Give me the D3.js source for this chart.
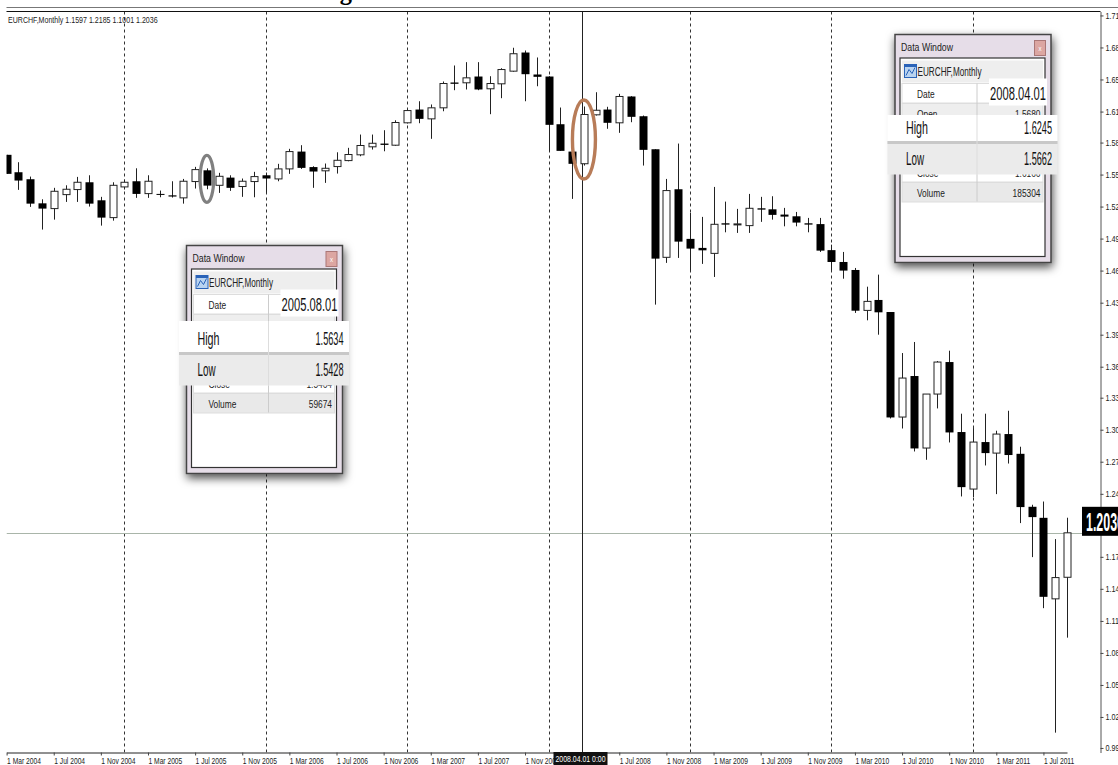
<!DOCTYPE html>
<html>
<head>
<meta charset="utf-8">
<title>EURCHF Monthly</title>
<script src="https://cdnjs.cloudflare.com/ajax/libs/d3/7.8.5/d3.min.js"></script>
<style>
  html, body { margin: 0; padding: 0; background: #fff; overflow: hidden; }
  svg { display: block; }
  text { font-family: "Liberation Sans", sans-serif; fill: #222; }
</style>
</head>
<body>
<div id="grafico"></div>
<script>
// ==================== DATA ====================
const months = [
  "Mar 2004","Apr 2004","May 2004","Jun 2004","Jul 2004","Aug 2004","Sep 2004","Oct 2004","Nov 2004","Dec 2004",
  "Jan 2005","Feb 2005","Mar 2005","Apr 2005","May 2005","Jun 2005","Jul 2005","Aug 2005","Sep 2005","Oct 2005","Nov 2005","Dec 2005",
  "Jan 2006","Feb 2006","Mar 2006","Apr 2006","May 2006","Jun 2006","Jul 2006","Aug 2006","Sep 2006","Oct 2006","Nov 2006","Dec 2006",
  "Jan 2007","Feb 2007","Mar 2007","Apr 2007","May 2007","Jun 2007","Jul 2007","Aug 2007","Sep 2007","Oct 2007","Nov 2007","Dec 2007",
  "Jan 2008","Feb 2008","Mar 2008","Apr 2008","May 2008","Jun 2008","Jul 2008","Aug 2008","Sep 2008","Oct 2008","Nov 2008","Dec 2008",
  "Jan 2009","Feb 2009","Mar 2009","Apr 2009","May 2009","Jun 2009","Jul 2009","Aug 2009","Sep 2009","Oct 2009","Nov 2009","Dec 2009",
  "Jan 2010","Feb 2010","Mar 2010","Apr 2010","May 2010","Jun 2010","Jul 2010","Aug 2010","Sep 2010","Oct 2010","Nov 2010","Dec 2010",
  "Jan 2011","Feb 2011","Mar 2011","Apr 2011","May 2011","Jun 2011","Jul 2011","Aug 2011","Sep 2011"
];

const opens = [
  1.5768,1.5596,1.5527,1.5289,1.5237,1.5375,1.5425,1.5497,1.5319,1.5148,
  1.5451,1.5507,1.5385,1.5382,1.5368,1.5343,1.5504,1.5615,1.5467,1.5543,1.5455,1.5504,
  1.5566,1.5530,1.5629,1.5800,1.5647,1.5610,1.5652,1.5711,1.5768,1.5847,1.5879,1.5863,
  1.6084,1.6215,1.6123,1.6232,1.6482,1.6479,1.6541,1.6420,1.6469,1.6594,1.6778,1.6561,
  1.6541,1.6070,1.5800,1.5680,1.6163,1.6215,1.6084,1.6344,1.6149,1.5823,1.4756,1.5428,
  1.4938,1.4849,1.4795,1.5092,1.5076,1.5069,1.5240,1.5230,1.5178,1.5161,1.5092,1.5084,
  1.4827,1.4710,1.4631,1.4232,1.4335,1.4216,1.3179,1.3584,1.2873,1.3406,1.3722,1.3031,
  1.2468,1.2932,1.2823,1.3011,1.2816,1.2293,1.2184,1.1384,1.1597
];
const highs = [
  1.5768,1.5695,1.5553,1.5329,1.5442,1.5467,1.5550,1.5566,1.5353,1.5497,
  1.5524,1.5635,1.5566,1.5415,1.5507,1.5530,1.5649,1.5634,1.5590,1.5566,1.5534,1.5600,
  1.5593,1.5679,1.5827,1.5863,1.5655,1.5682,1.5793,1.5837,1.5968,1.5968,1.6011,1.6109,
  1.6215,1.6297,1.6265,1.6492,1.6650,1.6683,1.6683,1.6544,1.6623,1.6825,1.6798,1.6729,
  1.6544,1.6235,1.5800,1.6245,1.6386,1.6242,1.6370,1.6347,1.6156,1.5823,1.5530,1.5879,
  1.5195,1.5155,1.5451,1.5306,1.5234,1.5382,1.5353,1.5359,1.5244,1.5204,1.5145,1.5145,
  1.4881,1.4809,1.4651,1.4466,1.4585,1.4216,1.3811,1.3920,1.3406,1.3732,1.3834,1.3212,
  1.3070,1.3212,1.3044,1.3241,1.2886,1.2313,1.2345,1.1974,1.2185
];
const lows = [
  1.5580,1.5422,1.5254,1.5030,1.5128,1.5303,1.5303,1.5257,1.5069,1.5118,
  1.5425,1.5343,1.5343,1.5349,1.5346,1.5286,1.5435,1.5428,1.5392,1.5412,1.5353,1.5349,
  1.5395,1.5507,1.5580,1.5629,1.5442,1.5491,1.5583,1.5704,1.5754,1.5820,1.5803,1.5857,
  1.6077,1.6080,1.5926,1.6198,1.6406,1.6413,1.6406,1.6169,1.6327,1.6588,1.6297,1.6445,
  1.5803,1.5807,1.5333,1.5662,1.6156,1.6025,1.5985,1.6090,1.5662,1.4289,1.4701,1.4750,
  1.4628,1.4691,1.4562,1.5003,1.4997,1.4997,1.5106,1.5128,1.5062,1.5062,1.5003,1.4809,
  1.4628,1.4545,1.4207,1.4134,1.3992,1.3165,1.3066,1.2839,1.2757,1.3264,1.2928,1.2395,
  1.2389,1.2701,1.2418,1.2720,1.2132,1.1796,1.1292,1.0063,1.1001
];
const closes = [
  1.5580,1.5514,1.5286,1.5237,1.5408,1.5428,1.5497,1.5286,1.5148,1.5467,
  1.5497,1.5382,1.5507,1.5375,1.5356,1.5507,1.5622,1.5464,1.5556,1.5442,1.5507,1.5553,
  1.5534,1.5629,1.5800,1.5639,1.5603,1.5635,1.5714,1.5771,1.5860,1.5882,1.5866,1.6087,
  1.6205,1.6123,1.6232,1.6472,1.6469,1.6528,1.6413,1.6472,1.6610,1.6766,1.6564,1.6538,
  1.6064,1.5807,1.5679,1.6166,1.6208,1.6084,1.6344,1.6143,1.5817,1.4743,1.5415,1.4911,
  1.4842,1.4825,1.5082,1.5079,1.5086,1.5240,1.5227,1.5175,1.5158,1.5099,1.5079,1.4822,
  1.4710,1.4625,1.4229,1.4321,1.4213,1.3175,1.3564,1.2869,1.3406,1.3722,1.3027,1.2487,
  1.2932,1.2823,1.3011,1.2804,1.2290,1.2191,1.1404,1.1594,1.2036
];

const priceTickValues = [
  1.7144,1.6828,1.6512,1.6195,1.5889,1.5573,1.5257,1.4941,1.4625,1.4308,1.3992,1.3676,
  1.3370,1.3054,1.2738,1.2421,1.2105,1.1799,1.1483,1.1166,1.0850,1.0534,1.0218,0.9912
];
const priceTickLabels = [
  "1.71","1.68","1.65","1.61","1.58","1.55","1.52","1.49","1.46","1.43","1.39","1.36",
  "1.33","1.30","1.27","1.24","1.20","1.17","1.14","1.11","1.08","1.05","1.02","0.99"
];
const timeTicks = [
  "Mar 2004","Jul 2004","Nov 2004","Mar 2005","Jul 2005","Nov 2005","Mar 2006","Jul 2006",
  "Nov 2006","Mar 2007","Jul 2007","Nov 2007","Mar 2008","Jul 2008","Nov 2008","Mar 2009",
  "Jul 2009","Nov 2009","Mar 2010","Jul 2010","Nov 2010","Mar 2011","Jul 2011"
];
const yearSeparators = ["Jan 2005","Jan 2006","Jan 2007","Jan 2008","Jan 2009","Jan 2010","Jan 2011"];

const lastClose = 1.2036;
const crosshairMonth = "Apr 2008";
const legendText = "EURCHF,Monthly  1.1597 1.2185 1.1001 1.2036";
const titleText = "Figure 4: EURCHF Movement from 2004 to 2011";

const windowAugust = { date: "2005.08.01", open: "1.5615", high: "1.5634", low: "1.5428", close: "1.5464", volume: "59674" };
const windowApril = { date: "2008.04.01", open: "1.5680", high: "1.6245", low: "1.5662", close: "1.6166", volume: "185304" };

// ==================== LAYOUT ====================
const width = 1118, height = 765;
const plotLeft = 6.5, plotRight = 1100.5, plotTop = 11.5, plotBottom = 752.5;

const x = d3.scalePoint().domain(months).range([6.6, 1067]);
const y = d3.scaleLinear().domain([0.9867, 1.7183]).range([plotBottom, plotTop]);

const svg = d3.select("#grafico").append("svg")
  .attr("width", width)
  .attr("height", height)
  .attr("viewBox", [0, 0, width, height]);

const defs = svg.append("defs");
defs.append("clipPath").attr("id", "plot-clip")
  .append("rect")
  .attr("x", plotLeft).attr("y", plotTop)
  .attr("width", plotRight - plotLeft).attr("height", plotBottom - plotTop);
defs.append("filter").attr("id", "window-shadow")
  .attr("x", "-15%").attr("y", "-15%").attr("width", "130%").attr("height", "130%")
  .append("feDropShadow")
  .attr("dx", 1).attr("dy", 4).attr("stdDeviation", 5)
  .attr("flood-color", "#000").attr("flood-opacity", 0.7);

// ==================== TITLE (cut by the top of the page) ====================
svg.append("text")
  .attr("x", 318).attr("y", 0)
  .attr("textLength", 512)
  .attr("lengthAdjust", "spacingAndGlyphs")
  .style("font-family", "'Liberation Serif', serif")
  .style("font-weight", "bold")
  .style("font-size", "26px")
  .style("fill", "#000")
  .text(titleText);

svg.append("line")
  .attr("x1", plotLeft).attr("x2", width).attr("y1", 7.5).attr("y2", 7.5)
  .attr("stroke", "#777");

// ==================== GRID AND CROSSHAIR ====================
const plot = svg.append("g").attr("clip-path", "url(#plot-clip)");

plot.selectAll("line.separator")
  .data(yearSeparators)
  .join("line")
  .attr("class", "separator")
  .attr("x1", d => Math.round(x(d)) + 0.5)
  .attr("x2", d => Math.round(x(d)) + 0.5)
  .attr("y1", plotTop).attr("y2", plotBottom)
  .attr("stroke", "#333")
  .attr("stroke-dasharray", "3,3");

plot.append("line")
  .attr("x1", plotLeft).attr("x2", plotRight)
  .attr("y1", Math.round(y(lastClose)) + 0.5).attr("y2", Math.round(y(lastClose)) + 0.5)
  .attr("stroke", "#a9b5a9");

plot.append("line")
  .attr("x1", Math.round(x(crosshairMonth)) - 1.5).attr("x2", Math.round(x(crosshairMonth)) - 1.5)
  .attr("y1", plotTop).attr("y2", plotBottom)
  .attr("stroke", "#222");

// ==================== CANDLES ====================
const candles = plot.selectAll("g.candle")
  .data(months)
  .join("g")
  .attr("class", "candle");

candles.append("line")
  .attr("x1", d => Math.round(x(d)) + 0.5)
  .attr("x2", d => Math.round(x(d)) + 0.5)
  .attr("y1", (d, i) => y(highs[i]))
  .attr("y2", (d, i) => y(lows[i]))
  .attr("stroke", "#222");

candles.append("rect")
  .attr("x", (d, i) => Math.round(x(d)) + (closes[i] >= opens[i] ? -3 : -3.5))
  .attr("width", (d, i) => closes[i] >= opens[i] ? 7 : 8)
  .attr("y", (d, i) => y(Math.max(opens[i], closes[i])))
  .attr("height", (d, i) => Math.max(1, Math.abs(y(opens[i]) - y(closes[i]))))
  .attr("fill", (d, i) => closes[i] >= opens[i] ? "#fff" : "#000")
  .attr("stroke", (d, i) => closes[i] >= opens[i] ? "#222" : "none");

// ==================== AXES ====================
const priceAxis = svg.append("g")
  .attr("transform", `translate(${plotRight},0)`)
  .call(d3.axisRight(y)
    .tickValues(priceTickValues)
    .tickFormat((d, i) => priceTickLabels[i])
    .tickSize(3)
    .tickPadding(2)
    .tickSizeOuter(0));
priceAxis.select(".domain").attr("stroke", "#555");
priceAxis.selectAll(".tick line").attr("stroke", "#444");
priceAxis.selectAll("text").style("font-size", "9.5px");

const timeAxis = svg.append("g")
  .attr("transform", `translate(0,${plotBottom})`)
  .call(d3.axisBottom(x)
    .tickValues(timeTicks)
    .tickFormat(d => "1 " + d)
    .tickSize(3)
    .tickPadding(2)
    .tickSizeOuter(0));
timeAxis.select(".domain").attr("stroke", "#222");
timeAxis.selectAll(".tick line").attr("stroke", "#444");
timeAxis.selectAll("text")
  .attr("text-anchor", "start")
  .style("font-size", "8.8px");

svg.append("line")
  .attr("x1", plotLeft).attr("x2", plotRight).attr("y1", plotTop).attr("y2", plotTop)
  .attr("stroke", "#111");

svg.append("text")
  .attr("x", 8).attr("y", 23)
  .style("font-size", "9.3px")
  .text(legendText);

// crosshair date flag on the time axis
svg.append("rect")
  .attr("x", 553.5).attr("y", 752).attr("width", 54).attr("height", 13)
  .attr("fill", "#111");
svg.append("text")
  .attr("x", 580.5).attr("y", 762)
  .attr("text-anchor", "middle")
  .attr("textLength", 50)
  .attr("lengthAdjust", "spacingAndGlyphs")
  .style("font-size", "9.5px")
  .style("fill", "#fff")
  .text("2008.04.01 0:00");

// last price flag on the price axis
svg.append("rect")
  .attr("x", 1082).attr("y", y(lastClose) - 26).attr("width", 36).attr("height", 29)
  .attr("fill", "#000");
svg.append("text")
  .attr("x", 1086).attr("y", y(lastClose) - 1.5)
  .attr("textLength", 38)
  .attr("lengthAdjust", "spacingAndGlyphs")
  .style("font-size", "25px")
  .style("font-weight", "bold")
  .style("fill", "#fff")
  .text("1.2036");

// ==================== HIGHLIGHT RINGS ====================
svg.append("ellipse")
  .attr("cx", x("Aug 2005")).attr("cy", (y(1.5634) + y(1.5428)) / 2)
  .attr("rx", 6.8).attr("ry", 23.5)
  .attr("fill", "none").attr("stroke", "#808080").attr("stroke-width", 3.2);
svg.append("ellipse")
  .attr("cx", x("Apr 2008")).attr("cy", (y(1.6245) + y(1.5662)) / 2 + 3.5)
  .attr("rx", 11.5).attr("ry", 39.5)
  .attr("fill", "none").attr("stroke", "#b87c58").attr("stroke-width", 3.4);

// ==================== DATA WINDOWS ====================
/**
 * Draws one MT4 "Data Window" panel with the enlarged High and Low rows.
 * @param {number} left - Left edge of the panel.
 * @param {number} top - Top edge of the panel.
 * @param {Object} info - Strings shown in the panel.
 * @param {number} patchTop - Top of the enlarged High row, from the panel top.
 */
function drawDataWindow(left, top, info, patchTop) {
  const w = 156, h = 228;
  const g = svg.append("g").attr("transform", `translate(${left},${top})`);

  g.append("rect").attr("width", w).attr("height", h)
    .attr("fill", "#e6dde8").attr("stroke", "#444").attr("stroke-width", 1.5)
    .attr("filter", "url(#window-shadow)");
  g.append("text").attr("x", 6).attr("y", 16.5).style("font-size", "11.5px").text("Data Window");

  g.append("rect").attr("x", 139.5).attr("y", 6).attr("width", 11).attr("height", 15)
    .attr("fill", "#dca6a2").attr("stroke", "#a77");
  g.append("text").attr("x", 145).attr("y", 16.5).attr("text-anchor", "middle")
    .style("font-size", "8px").style("fill", "#fff").text("x");

  g.append("rect").attr("x", 5).attr("y", 23.5).attr("width", 145).attr("height", 198.5)
    .attr("fill", "#fff").attr("stroke", "#333").attr("stroke-width", 1.2);
  g.append("rect").attr("x", 7).attr("y", 26).attr("width", 141).attr("height", 22).attr("fill", "#eee");

  g.append("rect").attr("x", 9.5).attr("y", 30).attr("width", 12).attr("height", 13)
    .attr("fill", "#b9d3f0").attr("stroke", "#2a63b8");
  g.append("rect").attr("x", 9.5).attr("y", 30).attr("width", 12).attr("height", 2.5).attr("fill", "#2a63b8");
  g.append("path").attr("d", "M11,41 L14,35 L17,39 L20,33").attr("fill", "none").attr("stroke", "#2a63b8");
  g.append("text").attr("x", 22.5).attr("y", 41)
    .attr("textLength", 64).attr("lengthAdjust", "spacingAndGlyphs")
    .style("font-size", "12px").text("EURCHF,Monthly");

  const rows = [
    { label: "Date", value: "", top: 49, shade: "#fff" },
    { label: "Open", value: info.open, top: 69, shade: "#eee" },
    { label: "Close", value: info.close, top: 128, shade: "#fff" },
    { label: "Volume", value: info.volume, top: 148, shade: "#e9e9e9" }
  ];
  rows.forEach(r => {
    g.append("rect").attr("x", 7).attr("y", r.top).attr("width", 141).attr("height", 19.5)
      .attr("fill", r.shade).attr("stroke", "#ddd");
    g.append("text").attr("x", 22).attr("y", r.top + 14).style("font-size", "11px").text(r.label);
    g.append("text").attr("x", 145.5).attr("y", r.top + 14).attr("text-anchor", "end")
      .style("font-size", "11px").text(r.value);
  });
  g.append("line").attr("x1", 82).attr("x2", 82).attr("y1", 49).attr("y2", 167).attr("stroke", "#ccc");

  // white patch with the enlarged date
  g.append("rect").attr("x", 94).attr("y", 44).attr("width", 58).attr("height", 27).attr("fill", "#fff");
  g.append("text").attr("x", 151).attr("y", 65).attr("text-anchor", "end")
    .attr("textLength", 56).attr("lengthAdjust", "spacingAndGlyphs")
    .style("font-size", "19px").style("fill", "#111").text(info.date);

  // enlarged High and Low rows
  g.append("rect").attr("x", -7.5).attr("y", patchTop).attr("width", 170).attr("height", 106.5 - patchTop)
    .attr("fill", "#fff");
  g.append("rect").attr("x", -7.5).attr("y", 106.5).attr("width", 170).attr("height", 33.5)
    .attr("fill", "#ebebeb");
  g.append("rect").attr("x", -7.5).attr("y", 106.5).attr("width", 170).attr("height", 3)
    .attr("fill", "#c8c8c8");
  g.append("line").attr("x1", 82).attr("x2", 82).attr("y1", patchTop).attr("y2", 140).attr("stroke", "#ddd");

  [["High", info.high, 99], ["Low", info.low, 130.5]].forEach(([label, value, base]) => {
    g.append("text").attr("x", 11).attr("y", base)
      .attr("textLength", label === "High" ? 22 : 18).attr("lengthAdjust", "spacingAndGlyphs")
      .style("font-size", "18px").style("fill", "#111").text(label);
    g.append("text").attr("x", 157).attr("y", base).attr("text-anchor", "end")
      .attr("textLength", 28).attr("lengthAdjust", "spacingAndGlyphs")
      .style("font-size", "18px").style("fill", "#111").text(value);
  });
}

drawDataWindow(186.5, 245.5, windowAugust, 75.5);
drawDataWindow(895, 34.5, windowApril, 80.5);

// The chart's Tahoma-like labels are narrow: squeeze every text that has no set length
svg.selectAll("text").each(function () {
  const label = d3.select(this);
  if (!label.attr("textLength") && label.text()) {
    label.attr("textLength", this.getComputedTextLength() * 0.76)
      .attr("lengthAdjust", "spacingAndGlyphs");
  }
});
</script>
</body>
</html>
